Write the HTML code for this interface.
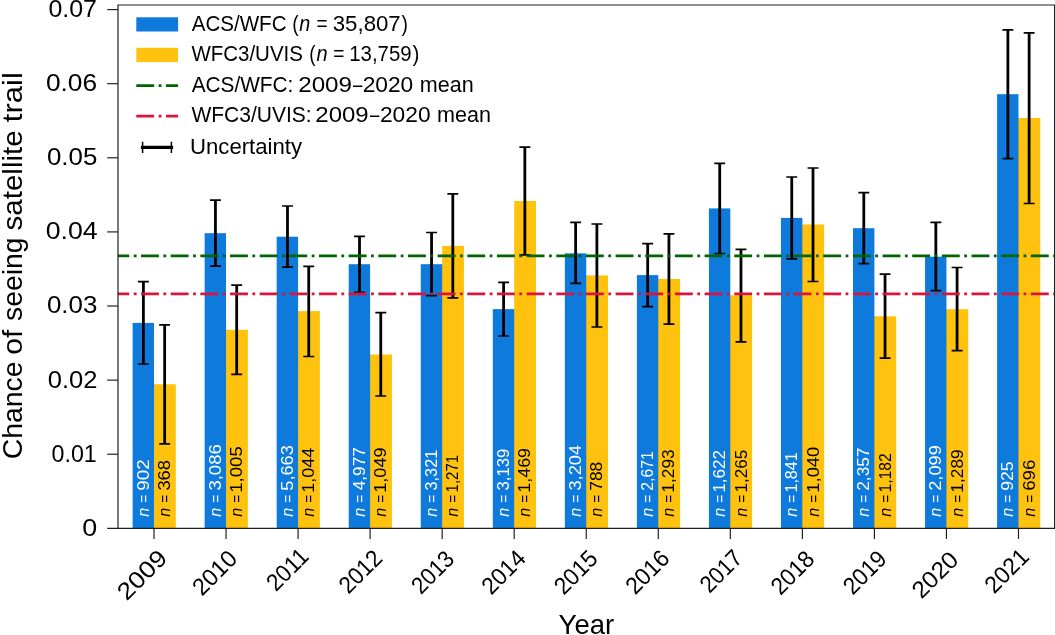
<!DOCTYPE html>
<html><head><meta charset="utf-8"><title>Chance of seeing satellite trail</title>
<style>html,body{margin:0;padding:0;background:#fff;overflow:hidden}svg{display:block;will-change:transform}text{font-family:"Liberation Sans",sans-serif;fill:#000}.it{font-style:italic}</style></head><body>
<svg width="1055" height="635" viewBox="0 0 1055 635">
<rect x="0" y="0" width="1055" height="635" fill="#fff"/>
<rect x="154.00" y="384.30" width="21.80" height="144.05" fill="#ffc20e"/>
<rect x="153.00" y="384.30" width="2.00" height="144.05" fill="#ffc20e"/>
<rect x="132.60" y="322.90" width="21.40" height="205.45" fill="#0e7bdc"/>
<rect x="226.04" y="329.80" width="21.80" height="198.55" fill="#ffc20e"/>
<rect x="225.04" y="329.80" width="2.00" height="198.55" fill="#ffc20e"/>
<rect x="204.64" y="233.20" width="21.40" height="295.15" fill="#0e7bdc"/>
<rect x="298.08" y="311.10" width="21.80" height="217.25" fill="#ffc20e"/>
<rect x="297.08" y="311.10" width="2.00" height="217.25" fill="#ffc20e"/>
<rect x="276.68" y="236.70" width="21.40" height="291.65" fill="#0e7bdc"/>
<rect x="370.12" y="354.50" width="21.80" height="173.85" fill="#ffc20e"/>
<rect x="369.12" y="354.50" width="2.00" height="173.85" fill="#ffc20e"/>
<rect x="348.72" y="264.20" width="21.40" height="264.15" fill="#0e7bdc"/>
<rect x="442.16" y="245.90" width="21.80" height="282.45" fill="#ffc20e"/>
<rect x="441.16" y="264.20" width="2.00" height="264.15" fill="#ffc20e"/>
<rect x="420.76" y="264.20" width="21.40" height="264.15" fill="#0e7bdc"/>
<rect x="514.20" y="201.00" width="21.80" height="327.35" fill="#ffc20e"/>
<rect x="513.20" y="309.10" width="2.00" height="219.25" fill="#ffc20e"/>
<rect x="492.80" y="309.10" width="21.40" height="219.25" fill="#0e7bdc"/>
<rect x="586.24" y="275.40" width="21.80" height="252.95" fill="#ffc20e"/>
<rect x="585.24" y="275.40" width="2.00" height="252.95" fill="#ffc20e"/>
<rect x="564.84" y="253.30" width="21.40" height="275.05" fill="#0e7bdc"/>
<rect x="658.28" y="279.00" width="21.80" height="249.35" fill="#ffc20e"/>
<rect x="657.28" y="279.00" width="2.00" height="249.35" fill="#ffc20e"/>
<rect x="636.88" y="275.10" width="21.40" height="253.25" fill="#0e7bdc"/>
<rect x="730.32" y="295.30" width="21.80" height="233.05" fill="#ffc20e"/>
<rect x="729.32" y="295.30" width="2.00" height="233.05" fill="#ffc20e"/>
<rect x="708.92" y="208.40" width="21.40" height="319.95" fill="#0e7bdc"/>
<rect x="802.36" y="224.50" width="21.80" height="303.85" fill="#ffc20e"/>
<rect x="801.36" y="224.50" width="2.00" height="303.85" fill="#ffc20e"/>
<rect x="780.96" y="217.90" width="21.40" height="310.45" fill="#0e7bdc"/>
<rect x="874.40" y="316.30" width="21.80" height="212.05" fill="#ffc20e"/>
<rect x="873.40" y="316.30" width="2.00" height="212.05" fill="#ffc20e"/>
<rect x="853.00" y="228.20" width="21.40" height="300.15" fill="#0e7bdc"/>
<rect x="946.44" y="309.20" width="21.80" height="219.15" fill="#ffc20e"/>
<rect x="945.44" y="309.20" width="2.00" height="219.15" fill="#ffc20e"/>
<rect x="925.04" y="256.70" width="21.40" height="271.65" fill="#0e7bdc"/>
<rect x="1018.48" y="118.00" width="21.80" height="410.35" fill="#ffc20e"/>
<rect x="1017.48" y="118.00" width="2.00" height="410.35" fill="#ffc20e"/>
<rect x="997.08" y="94.20" width="21.40" height="434.15" fill="#0e7bdc"/>
<path d="M143.40 281.60V364.00" stroke="#000" stroke-width="2.80" fill="none"/>
<path d="M137.95 281.60H148.85M137.95 364.00H148.85" stroke="#000" stroke-width="1.70" fill="none"/>
<path d="M164.65 324.80V443.90" stroke="#000" stroke-width="2.80" fill="none"/>
<path d="M159.20 324.80H170.10M159.20 443.90H170.10" stroke="#000" stroke-width="1.70" fill="none"/>
<path d="M215.44 200.20V266.10" stroke="#000" stroke-width="2.80" fill="none"/>
<path d="M209.99 200.20H220.89M209.99 266.10H220.89" stroke="#000" stroke-width="1.70" fill="none"/>
<path d="M236.69 285.20V374.40" stroke="#000" stroke-width="2.80" fill="none"/>
<path d="M231.24 285.20H242.14M231.24 374.40H242.14" stroke="#000" stroke-width="1.70" fill="none"/>
<path d="M287.48 206.00V267.20" stroke="#000" stroke-width="2.80" fill="none"/>
<path d="M282.03 206.00H292.93M282.03 267.20H292.93" stroke="#000" stroke-width="1.70" fill="none"/>
<path d="M308.73 266.40V356.50" stroke="#000" stroke-width="2.80" fill="none"/>
<path d="M303.28 266.40H314.18M303.28 356.50H314.18" stroke="#000" stroke-width="1.70" fill="none"/>
<path d="M359.52 236.40V292.30" stroke="#000" stroke-width="2.80" fill="none"/>
<path d="M354.07 236.40H364.97M354.07 292.30H364.97" stroke="#000" stroke-width="1.70" fill="none"/>
<path d="M380.77 312.60V396.00" stroke="#000" stroke-width="2.80" fill="none"/>
<path d="M375.32 312.60H386.22M375.32 396.00H386.22" stroke="#000" stroke-width="1.70" fill="none"/>
<path d="M431.56 232.50V295.60" stroke="#000" stroke-width="2.80" fill="none"/>
<path d="M426.11 232.50H437.01M426.11 295.60H437.01" stroke="#000" stroke-width="1.70" fill="none"/>
<path d="M452.81 193.80V297.80" stroke="#000" stroke-width="2.80" fill="none"/>
<path d="M447.36 193.80H458.26M447.36 297.80H458.26" stroke="#000" stroke-width="1.70" fill="none"/>
<path d="M503.60 282.40V336.00" stroke="#000" stroke-width="2.80" fill="none"/>
<path d="M498.15 282.40H509.05M498.15 336.00H509.05" stroke="#000" stroke-width="1.70" fill="none"/>
<path d="M524.85 147.20V254.90" stroke="#000" stroke-width="2.80" fill="none"/>
<path d="M519.40 147.20H530.30M519.40 254.90H530.30" stroke="#000" stroke-width="1.70" fill="none"/>
<path d="M575.64 222.40V283.40" stroke="#000" stroke-width="2.80" fill="none"/>
<path d="M570.19 222.40H581.09M570.19 283.40H581.09" stroke="#000" stroke-width="1.70" fill="none"/>
<path d="M596.89 224.00V327.00" stroke="#000" stroke-width="2.80" fill="none"/>
<path d="M591.44 224.00H602.34M591.44 327.00H602.34" stroke="#000" stroke-width="1.70" fill="none"/>
<path d="M647.68 243.70V306.60" stroke="#000" stroke-width="2.80" fill="none"/>
<path d="M642.23 243.70H653.13M642.23 306.60H653.13" stroke="#000" stroke-width="1.70" fill="none"/>
<path d="M668.93 233.80V324.20" stroke="#000" stroke-width="2.80" fill="none"/>
<path d="M663.48 233.80H674.38M663.48 324.20H674.38" stroke="#000" stroke-width="1.70" fill="none"/>
<path d="M719.72 163.40V253.50" stroke="#000" stroke-width="2.80" fill="none"/>
<path d="M714.27 163.40H725.17M714.27 253.50H725.17" stroke="#000" stroke-width="1.70" fill="none"/>
<path d="M740.97 249.40V341.80" stroke="#000" stroke-width="2.80" fill="none"/>
<path d="M735.52 249.40H746.42M735.52 341.80H746.42" stroke="#000" stroke-width="1.70" fill="none"/>
<path d="M791.76 177.00V258.90" stroke="#000" stroke-width="2.80" fill="none"/>
<path d="M786.31 177.00H797.21M786.31 258.90H797.21" stroke="#000" stroke-width="1.70" fill="none"/>
<path d="M813.01 168.00V281.50" stroke="#000" stroke-width="2.80" fill="none"/>
<path d="M807.56 168.00H818.46M807.56 281.50H818.46" stroke="#000" stroke-width="1.70" fill="none"/>
<path d="M863.80 192.60V263.70" stroke="#000" stroke-width="2.80" fill="none"/>
<path d="M858.35 192.60H869.25M858.35 263.70H869.25" stroke="#000" stroke-width="1.70" fill="none"/>
<path d="M885.05 274.20V358.10" stroke="#000" stroke-width="2.80" fill="none"/>
<path d="M879.60 274.20H890.50M879.60 358.10H890.50" stroke="#000" stroke-width="1.70" fill="none"/>
<path d="M935.84 222.40V290.70" stroke="#000" stroke-width="2.80" fill="none"/>
<path d="M930.39 222.40H941.29M930.39 290.70H941.29" stroke="#000" stroke-width="1.70" fill="none"/>
<path d="M957.09 267.50V350.70" stroke="#000" stroke-width="2.80" fill="none"/>
<path d="M951.64 267.50H962.54M951.64 350.70H962.54" stroke="#000" stroke-width="1.70" fill="none"/>
<path d="M1007.88 29.90V158.70" stroke="#000" stroke-width="2.80" fill="none"/>
<path d="M1002.43 29.90H1013.33M1002.43 158.70H1013.33" stroke="#000" stroke-width="1.70" fill="none"/>
<path d="M1029.13 32.80V203.50" stroke="#000" stroke-width="2.80" fill="none"/>
<path d="M1023.68 32.80H1034.58M1023.68 203.50H1034.58" stroke="#000" stroke-width="1.70" fill="none"/>
<clipPath id="cp"><rect x="118" y="0" width="937" height="635"/></clipPath>
<g clip-path="url(#cp)" fill="none" stroke-width="2.65" stroke-dasharray="17.88 4.49 2.8 4.49">
<path d="M111.38 255.8H1060" stroke="#006400"/>
<path d="M111.38 293.88H1060" stroke="#dc143c"/>
</g>
<text transform="translate(148.60 516.50) rotate(-90)" x="-0.27" y="0" font-size="17.10" textLength="9.00" lengthAdjust="spacingAndGlyphs" class="it" style="fill:#fff">n</text>
<text transform="translate(148.60 516.50) rotate(-90)" x="13.64" y="0" font-size="17.10" textLength="7.92" lengthAdjust="spacingAndGlyphs" style="fill:#fff">=</text>
<text transform="translate(148.60 516.50) rotate(-90)" x="25.72" y="0" font-size="17.10" textLength="31.52" lengthAdjust="spacingAndGlyphs" style="fill:#fff">902</text>
<text transform="translate(170.20 516.50) rotate(-90)" x="-0.27" y="0" font-size="17.10" textLength="9.00" lengthAdjust="spacingAndGlyphs" class="it" style="fill:#000">n</text>
<text transform="translate(170.20 516.50) rotate(-90)" x="13.64" y="0" font-size="17.10" textLength="7.92" lengthAdjust="spacingAndGlyphs" style="fill:#000">=</text>
<text transform="translate(170.20 516.50) rotate(-90)" x="25.90" y="0" font-size="17.10" textLength="30.69" lengthAdjust="spacingAndGlyphs" style="fill:#000">368</text>
<text transform="translate(220.64 516.50) rotate(-90)" x="-0.27" y="0" font-size="17.10" textLength="9.00" lengthAdjust="spacingAndGlyphs" class="it" style="fill:#fff">n</text>
<text transform="translate(220.64 516.50) rotate(-90)" x="13.64" y="0" font-size="17.10" textLength="7.92" lengthAdjust="spacingAndGlyphs" style="fill:#fff">=</text>
<text transform="translate(220.64 516.50) rotate(-90)" x="25.90" y="0" font-size="17.10" textLength="46.41" lengthAdjust="spacingAndGlyphs" style="fill:#fff">3,086</text>
<text transform="translate(242.24 516.50) rotate(-90)" x="-0.27" y="0" font-size="17.10" textLength="9.00" lengthAdjust="spacingAndGlyphs" class="it" style="fill:#000">n</text>
<text transform="translate(242.24 516.50) rotate(-90)" x="13.64" y="0" font-size="17.10" textLength="7.92" lengthAdjust="spacingAndGlyphs" style="fill:#000">=</text>
<text transform="translate(242.24 516.50) rotate(-90)" x="23.79" y="0" font-size="17.10" textLength="46.48" lengthAdjust="spacingAndGlyphs" style="fill:#000">1,005</text>
<text transform="translate(292.68 516.50) rotate(-90)" x="-0.27" y="0" font-size="17.10" textLength="9.00" lengthAdjust="spacingAndGlyphs" class="it" style="fill:#fff">n</text>
<text transform="translate(292.68 516.50) rotate(-90)" x="13.64" y="0" font-size="17.10" textLength="7.92" lengthAdjust="spacingAndGlyphs" style="fill:#fff">=</text>
<text transform="translate(292.68 516.50) rotate(-90)" x="25.87" y="0" font-size="17.10" textLength="45.41" lengthAdjust="spacingAndGlyphs" style="fill:#fff">5,663</text>
<text transform="translate(314.28 516.50) rotate(-90)" x="-0.27" y="0" font-size="17.10" textLength="9.00" lengthAdjust="spacingAndGlyphs" class="it" style="fill:#000">n</text>
<text transform="translate(314.28 516.50) rotate(-90)" x="13.64" y="0" font-size="17.10" textLength="7.92" lengthAdjust="spacingAndGlyphs" style="fill:#000">=</text>
<text transform="translate(314.28 516.50) rotate(-90)" x="23.84" y="0" font-size="17.10" textLength="44.78" lengthAdjust="spacingAndGlyphs" style="fill:#000">1,044</text>
<text transform="translate(364.72 516.50) rotate(-90)" x="-0.27" y="0" font-size="17.10" textLength="9.00" lengthAdjust="spacingAndGlyphs" class="it" style="fill:#fff">n</text>
<text transform="translate(364.72 516.50) rotate(-90)" x="13.64" y="0" font-size="17.10" textLength="7.92" lengthAdjust="spacingAndGlyphs" style="fill:#fff">=</text>
<text transform="translate(364.72 516.50) rotate(-90)" x="26.21" y="0" font-size="17.10" textLength="43.15" lengthAdjust="spacingAndGlyphs" style="fill:#fff">4,977</text>
<text transform="translate(386.32 516.50) rotate(-90)" x="-0.27" y="0" font-size="17.10" textLength="9.00" lengthAdjust="spacingAndGlyphs" class="it" style="fill:#000">n</text>
<text transform="translate(386.32 516.50) rotate(-90)" x="13.64" y="0" font-size="17.10" textLength="7.92" lengthAdjust="spacingAndGlyphs" style="fill:#000">=</text>
<text transform="translate(386.32 516.50) rotate(-90)" x="23.83" y="0" font-size="17.10" textLength="45.12" lengthAdjust="spacingAndGlyphs" style="fill:#000">1,049</text>
<text transform="translate(436.76 516.50) rotate(-90)" x="-0.27" y="0" font-size="17.10" textLength="9.00" lengthAdjust="spacingAndGlyphs" class="it" style="fill:#fff">n</text>
<text transform="translate(436.76 516.50) rotate(-90)" x="13.64" y="0" font-size="17.10" textLength="7.92" lengthAdjust="spacingAndGlyphs" style="fill:#fff">=</text>
<text transform="translate(436.76 516.50) rotate(-90)" x="25.98" y="0" font-size="17.10" textLength="40.81" lengthAdjust="spacingAndGlyphs" style="fill:#fff">3,321</text>
<text transform="translate(458.36 516.50) rotate(-90)" x="-0.27" y="0" font-size="17.10" textLength="9.00" lengthAdjust="spacingAndGlyphs" class="it" style="fill:#000">n</text>
<text transform="translate(458.36 516.50) rotate(-90)" x="13.64" y="0" font-size="17.10" textLength="7.92" lengthAdjust="spacingAndGlyphs" style="fill:#000">=</text>
<text transform="translate(458.36 516.50) rotate(-90)" x="24.06" y="0" font-size="17.10" textLength="37.57" lengthAdjust="spacingAndGlyphs" style="fill:#000">1,271</text>
<text transform="translate(508.80 516.50) rotate(-90)" x="-0.27" y="0" font-size="17.10" textLength="9.00" lengthAdjust="spacingAndGlyphs" class="it" style="fill:#fff">n</text>
<text transform="translate(508.80 516.50) rotate(-90)" x="13.64" y="0" font-size="17.10" textLength="7.92" lengthAdjust="spacingAndGlyphs" style="fill:#fff">=</text>
<text transform="translate(508.80 516.50) rotate(-90)" x="25.96" y="0" font-size="17.10" textLength="41.82" lengthAdjust="spacingAndGlyphs" style="fill:#fff">3,139</text>
<text transform="translate(530.40 516.50) rotate(-90)" x="-0.27" y="0" font-size="17.10" textLength="9.00" lengthAdjust="spacingAndGlyphs" class="it" style="fill:#000">n</text>
<text transform="translate(530.40 516.50) rotate(-90)" x="13.64" y="0" font-size="17.10" textLength="7.92" lengthAdjust="spacingAndGlyphs" style="fill:#000">=</text>
<text transform="translate(530.40 516.50) rotate(-90)" x="23.84" y="0" font-size="17.10" textLength="44.70" lengthAdjust="spacingAndGlyphs" style="fill:#000">1,469</text>
<text transform="translate(580.84 516.50) rotate(-90)" x="-0.27" y="0" font-size="17.10" textLength="9.00" lengthAdjust="spacingAndGlyphs" class="it" style="fill:#fff">n</text>
<text transform="translate(580.84 516.50) rotate(-90)" x="13.64" y="0" font-size="17.10" textLength="7.92" lengthAdjust="spacingAndGlyphs" style="fill:#fff">=</text>
<text transform="translate(580.84 516.50) rotate(-90)" x="25.91" y="0" font-size="17.10" textLength="45.72" lengthAdjust="spacingAndGlyphs" style="fill:#fff">3,204</text>
<text transform="translate(602.44 516.50) rotate(-90)" x="-0.27" y="0" font-size="17.10" textLength="9.00" lengthAdjust="spacingAndGlyphs" class="it" style="fill:#000">n</text>
<text transform="translate(602.44 516.50) rotate(-90)" x="13.64" y="0" font-size="17.10" textLength="7.92" lengthAdjust="spacingAndGlyphs" style="fill:#000">=</text>
<text transform="translate(602.44 516.50) rotate(-90)" x="25.71" y="0" font-size="17.10" textLength="29.14" lengthAdjust="spacingAndGlyphs" style="fill:#000">788</text>
<text transform="translate(652.88 516.50) rotate(-90)" x="-0.27" y="0" font-size="17.10" textLength="9.00" lengthAdjust="spacingAndGlyphs" class="it" style="fill:#fff">n</text>
<text transform="translate(652.88 516.50) rotate(-90)" x="13.64" y="0" font-size="17.10" textLength="7.92" lengthAdjust="spacingAndGlyphs" style="fill:#fff">=</text>
<text transform="translate(652.88 516.50) rotate(-90)" x="25.81" y="0" font-size="17.10" textLength="39.35" lengthAdjust="spacingAndGlyphs" style="fill:#fff">2,671</text>
<text transform="translate(674.48 516.50) rotate(-90)" x="-0.27" y="0" font-size="17.10" textLength="9.00" lengthAdjust="spacingAndGlyphs" class="it" style="fill:#000">n</text>
<text transform="translate(674.48 516.50) rotate(-90)" x="13.64" y="0" font-size="17.10" textLength="7.92" lengthAdjust="spacingAndGlyphs" style="fill:#000">=</text>
<text transform="translate(674.48 516.50) rotate(-90)" x="23.89" y="0" font-size="17.10" textLength="43.27" lengthAdjust="spacingAndGlyphs" style="fill:#000">1,293</text>
<text transform="translate(724.92 516.50) rotate(-90)" x="-0.27" y="0" font-size="17.10" textLength="9.00" lengthAdjust="spacingAndGlyphs" class="it" style="fill:#fff">n</text>
<text transform="translate(724.92 516.50) rotate(-90)" x="13.64" y="0" font-size="17.10" textLength="7.92" lengthAdjust="spacingAndGlyphs" style="fill:#fff">=</text>
<text transform="translate(724.92 516.50) rotate(-90)" x="23.91" y="0" font-size="17.10" textLength="42.54" lengthAdjust="spacingAndGlyphs" style="fill:#fff">1,622</text>
<text transform="translate(746.52 516.50) rotate(-90)" x="-0.27" y="0" font-size="17.10" textLength="9.00" lengthAdjust="spacingAndGlyphs" class="it" style="fill:#000">n</text>
<text transform="translate(746.52 516.50) rotate(-90)" x="13.64" y="0" font-size="17.10" textLength="7.92" lengthAdjust="spacingAndGlyphs" style="fill:#000">=</text>
<text transform="translate(746.52 516.50) rotate(-90)" x="23.90" y="0" font-size="17.10" textLength="42.81" lengthAdjust="spacingAndGlyphs" style="fill:#000">1,265</text>
<text transform="translate(796.96 516.50) rotate(-90)" x="-0.27" y="0" font-size="17.10" textLength="9.00" lengthAdjust="spacingAndGlyphs" class="it" style="fill:#fff">n</text>
<text transform="translate(796.96 516.50) rotate(-90)" x="13.64" y="0" font-size="17.10" textLength="7.92" lengthAdjust="spacingAndGlyphs" style="fill:#fff">=</text>
<text transform="translate(796.96 516.50) rotate(-90)" x="23.98" y="0" font-size="17.10" textLength="40.20" lengthAdjust="spacingAndGlyphs" style="fill:#fff">1,841</text>
<text transform="translate(818.56 516.50) rotate(-90)" x="-0.27" y="0" font-size="17.10" textLength="9.00" lengthAdjust="spacingAndGlyphs" class="it" style="fill:#000">n</text>
<text transform="translate(818.56 516.50) rotate(-90)" x="13.64" y="0" font-size="17.10" textLength="7.92" lengthAdjust="spacingAndGlyphs" style="fill:#000">=</text>
<text transform="translate(818.56 516.50) rotate(-90)" x="23.80" y="0" font-size="17.10" textLength="46.00" lengthAdjust="spacingAndGlyphs" style="fill:#000">1,040</text>
<text transform="translate(869.00 516.50) rotate(-90)" x="-0.27" y="0" font-size="17.10" textLength="9.00" lengthAdjust="spacingAndGlyphs" class="it" style="fill:#fff">n</text>
<text transform="translate(869.00 516.50) rotate(-90)" x="13.64" y="0" font-size="17.10" textLength="7.92" lengthAdjust="spacingAndGlyphs" style="fill:#fff">=</text>
<text transform="translate(869.00 516.50) rotate(-90)" x="25.74" y="0" font-size="17.10" textLength="43.23" lengthAdjust="spacingAndGlyphs" style="fill:#fff">2,357</text>
<text transform="translate(890.60 516.50) rotate(-90)" x="-0.27" y="0" font-size="17.10" textLength="9.00" lengthAdjust="spacingAndGlyphs" class="it" style="fill:#000">n</text>
<text transform="translate(890.60 516.50) rotate(-90)" x="13.64" y="0" font-size="17.10" textLength="7.92" lengthAdjust="spacingAndGlyphs" style="fill:#000">=</text>
<text transform="translate(890.60 516.50) rotate(-90)" x="24.01" y="0" font-size="17.10" textLength="39.28" lengthAdjust="spacingAndGlyphs" style="fill:#000">1,182</text>
<text transform="translate(941.04 516.50) rotate(-90)" x="-0.27" y="0" font-size="17.10" textLength="9.00" lengthAdjust="spacingAndGlyphs" class="it" style="fill:#fff">n</text>
<text transform="translate(941.04 516.50) rotate(-90)" x="13.64" y="0" font-size="17.10" textLength="7.92" lengthAdjust="spacingAndGlyphs" style="fill:#fff">=</text>
<text transform="translate(941.04 516.50) rotate(-90)" x="25.69" y="0" font-size="17.10" textLength="45.67" lengthAdjust="spacingAndGlyphs" style="fill:#fff">2,099</text>
<text transform="translate(962.64 516.50) rotate(-90)" x="-0.27" y="0" font-size="17.10" textLength="9.00" lengthAdjust="spacingAndGlyphs" class="it" style="fill:#000">n</text>
<text transform="translate(962.64 516.50) rotate(-90)" x="13.64" y="0" font-size="17.10" textLength="7.92" lengthAdjust="spacingAndGlyphs" style="fill:#000">=</text>
<text transform="translate(962.64 516.50) rotate(-90)" x="23.88" y="0" font-size="17.10" textLength="43.33" lengthAdjust="spacingAndGlyphs" style="fill:#000">1,289</text>
<text transform="translate(1013.08 516.50) rotate(-90)" x="-0.27" y="0" font-size="17.10" textLength="9.00" lengthAdjust="spacingAndGlyphs" class="it" style="fill:#fff">n</text>
<text transform="translate(1013.08 516.50) rotate(-90)" x="13.64" y="0" font-size="17.10" textLength="7.92" lengthAdjust="spacingAndGlyphs" style="fill:#fff">=</text>
<text transform="translate(1013.08 516.50) rotate(-90)" x="25.78" y="0" font-size="17.10" textLength="29.35" lengthAdjust="spacingAndGlyphs" style="fill:#fff">925</text>
<text transform="translate(1034.68 516.50) rotate(-90)" x="-0.27" y="0" font-size="17.10" textLength="9.00" lengthAdjust="spacingAndGlyphs" class="it" style="fill:#000">n</text>
<text transform="translate(1034.68 516.50) rotate(-90)" x="13.64" y="0" font-size="17.10" textLength="7.92" lengthAdjust="spacingAndGlyphs" style="fill:#000">=</text>
<text transform="translate(1034.68 516.50) rotate(-90)" x="25.65" y="0" font-size="17.10" textLength="31.37" lengthAdjust="spacingAndGlyphs" style="fill:#000">696</text>
<g stroke="#1f1f1f" stroke-width="1.18" fill="none">
<path d="M118 528.35V5H1056"/>
<path d="M1054.6 5V528.35"/>
<path d="M107.2 528.35H1056"/>
<path d="M107.2 454.24H118"/>
<path d="M107.2 380.13H118"/>
<path d="M107.2 306.02H118"/>
<path d="M107.2 231.91H118"/>
<path d="M107.2 157.80H118"/>
<path d="M107.2 83.69H118"/>
<path d="M107.2 9.58H118"/>
<path d="M154.00 528.35V538.9"/>
<path d="M226.04 528.35V538.9"/>
<path d="M298.08 528.35V538.9"/>
<path d="M370.12 528.35V538.9"/>
<path d="M442.16 528.35V538.9"/>
<path d="M514.20 528.35V538.9"/>
<path d="M586.24 528.35V538.9"/>
<path d="M658.28 528.35V538.9"/>
<path d="M730.32 528.35V538.9"/>
<path d="M802.36 528.35V538.9"/>
<path d="M874.40 528.35V538.9"/>
<path d="M946.44 528.35V538.9"/>
<path d="M1018.48 528.35V538.9"/>
</g>
<text x="82.30" y="535.75" font-size="23.80" textLength="14.99" lengthAdjust="spacingAndGlyphs">0</text>
<text x="51.54" y="461.64" font-size="23.80" textLength="45.24" lengthAdjust="spacingAndGlyphs">0.01</text>
<text x="47.75" y="387.53" font-size="23.80" textLength="49.78" lengthAdjust="spacingAndGlyphs">0.02</text>
<text x="46.94" y="313.42" font-size="23.80" textLength="50.45" lengthAdjust="spacingAndGlyphs">0.03</text>
<text x="45.71" y="239.31" font-size="23.80" textLength="51.92" lengthAdjust="spacingAndGlyphs">0.04</text>
<text x="46.94" y="165.20" font-size="23.80" textLength="50.39" lengthAdjust="spacingAndGlyphs">0.05</text>
<text x="45.92" y="91.09" font-size="23.80" textLength="51.28" lengthAdjust="spacingAndGlyphs">0.06</text>
<text x="48.48" y="16.98" font-size="23.80" textLength="48.53" lengthAdjust="spacingAndGlyphs">0.07</text>
<text transform="translate(167.74 560.46) rotate(-45)" x="-57.94" y="0" font-size="23.80" textLength="59.19" lengthAdjust="spacingAndGlyphs">2009</text>
<text transform="translate(238.06 560.72) rotate(-45)" x="-51.08" y="0" font-size="23.80" textLength="51.99" lengthAdjust="spacingAndGlyphs">2010</text>
<text transform="translate(309.40 558.76) rotate(-45)" x="-47.39" y="0" font-size="23.80" textLength="48.48" lengthAdjust="spacingAndGlyphs">2011</text>
<text transform="translate(382.92 560.42) rotate(-45)" x="-48.70" y="0" font-size="23.80" textLength="49.82" lengthAdjust="spacingAndGlyphs">2012</text>
<text transform="translate(455.08 561.16) rotate(-45)" x="-48.13" y="0" font-size="23.80" textLength="49.09" lengthAdjust="spacingAndGlyphs">2013</text>
<text transform="translate(526.84 560.16) rotate(-45)" x="-50.16" y="0" font-size="23.80" textLength="50.83" lengthAdjust="spacingAndGlyphs">2014</text>
<text transform="translate(598.58 560.86) rotate(-45)" x="-49.43" y="0" font-size="23.80" textLength="50.38" lengthAdjust="spacingAndGlyphs">2015</text>
<text transform="translate(670.34 560.42) rotate(-45)" x="-49.78" y="0" font-size="23.80" textLength="50.78" lengthAdjust="spacingAndGlyphs">2016</text>
<text transform="translate(743.20 560.32) rotate(-45)" x="-47.76" y="0" font-size="23.80" textLength="48.86" lengthAdjust="spacingAndGlyphs">2017</text>
<text transform="translate(815.32 561.18) rotate(-45)" x="-49.30" y="0" font-size="23.80" textLength="50.28" lengthAdjust="spacingAndGlyphs">2018</text>
<text transform="translate(887.30 561.18) rotate(-45)" x="-48.87" y="0" font-size="23.80" textLength="49.93" lengthAdjust="spacingAndGlyphs">2019</text>
<text transform="translate(959.28 561.94) rotate(-45)" x="-53.51" y="0" font-size="23.80" textLength="54.45" lengthAdjust="spacingAndGlyphs">2020</text>
<text transform="translate(1029.66 559.00) rotate(-45)" x="-50.09" y="0" font-size="23.80" textLength="51.21" lengthAdjust="spacingAndGlyphs">2021</text>
<text transform="translate(21.60 457.90) rotate(-90)" x="-1.43" y="0" font-size="27.60" textLength="97.79" lengthAdjust="spacingAndGlyphs">Chance</text>
<text transform="translate(21.60 457.90) rotate(-90)" x="103.16" y="0" font-size="27.60" textLength="25.00" lengthAdjust="spacingAndGlyphs">of</text>
<text transform="translate(21.60 457.90) rotate(-90)" x="136.92" y="0" font-size="27.60" textLength="83.50" lengthAdjust="spacingAndGlyphs">seeing</text>
<text transform="translate(21.60 457.90) rotate(-90)" x="227.49" y="0" font-size="27.60" textLength="100.01" lengthAdjust="spacingAndGlyphs">satellite</text>
<text transform="translate(21.60 457.90) rotate(-90)" x="335.74" y="0" font-size="27.60" textLength="49.94" lengthAdjust="spacingAndGlyphs">trail</text>
<text x="558.60" y="633.90" font-size="27.60" textLength="55.56" lengthAdjust="spacingAndGlyphs">Year</text>
<rect x="136.3" y="17.3" width="41.8" height="14.2" fill="#0e7bdc"/>
<rect x="136.3" y="47.8" width="41.8" height="14.3" fill="#ffc20e"/>
<path d="M136.3 85.6H178.1" stroke="#006400" stroke-width="2.8" stroke-dasharray="17.88 4.49 2.8 4.49" fill="none"/>
<path d="M136.3 116.1H178.1" stroke="#dc143c" stroke-width="2.8" stroke-dasharray="17.88 4.49 2.8 4.49" fill="none"/>
<path d="M140.9 147.3H173.1" stroke="#000" stroke-width="3.3" fill="none"/>
<path d="M142.6 141.8V152.9M171.4 141.8V152.9" stroke="#000" stroke-width="1.5" fill="none"/>
<text x="191.67" y="30.80" font-size="21.30" textLength="94.91" lengthAdjust="spacingAndGlyphs">ACS/WFC</text>
<text x="292.31" y="30.80" font-size="21.30" textLength="6.40" lengthAdjust="spacingAndGlyphs">(</text>
<text x="299.37" y="30.80" font-size="21.30" textLength="11.02" lengthAdjust="spacingAndGlyphs" class="it">n</text>
<text x="316.47" y="30.80" font-size="21.30" textLength="11.16" lengthAdjust="spacingAndGlyphs">=</text>
<text x="332.76" y="30.80" font-size="21.30" textLength="67.96" lengthAdjust="spacingAndGlyphs">35,807</text>
<text x="401.49" y="30.80" font-size="21.30" textLength="6.40" lengthAdjust="spacingAndGlyphs">)</text>
<text x="191.42" y="61.00" font-size="21.30" textLength="111.51" lengthAdjust="spacingAndGlyphs">WFC3/UVIS</text>
<text x="309.33" y="61.00" font-size="21.30" textLength="6.27" lengthAdjust="spacingAndGlyphs">(</text>
<text x="316.47" y="61.00" font-size="21.30" textLength="11.13" lengthAdjust="spacingAndGlyphs" class="it">n</text>
<text x="333.37" y="61.00" font-size="21.30" textLength="11.16" lengthAdjust="spacingAndGlyphs">=</text>
<text x="349.25" y="61.00" font-size="21.30" textLength="62.31" lengthAdjust="spacingAndGlyphs">13,759</text>
<text x="412.49" y="61.00" font-size="21.30" textLength="6.90" lengthAdjust="spacingAndGlyphs">)</text>
<text x="191.67" y="91.60" font-size="21.30" textLength="101.72" lengthAdjust="spacingAndGlyphs">ACS/WFC:</text>
<text x="298.19" y="91.60" font-size="21.30" textLength="53.85" lengthAdjust="spacingAndGlyphs">2009</text>
<text x="353.00" y="91.60" font-size="21.30" textLength="9.40" lengthAdjust="spacingAndGlyphs">–</text>
<text x="362.66" y="91.60" font-size="21.30" textLength="50.62" lengthAdjust="spacingAndGlyphs">2020</text>
<text x="419.78" y="91.60" font-size="21.30" textLength="53.91" lengthAdjust="spacingAndGlyphs">mean</text>
<text x="191.42" y="122.00" font-size="21.30" textLength="120.29" lengthAdjust="spacingAndGlyphs">WFC3/UVIS:</text>
<text x="315.30" y="122.00" font-size="21.30" textLength="53.43" lengthAdjust="spacingAndGlyphs">2009</text>
<text x="370.10" y="122.00" font-size="21.30" textLength="9.40" lengthAdjust="spacingAndGlyphs">–</text>
<text x="379.96" y="122.00" font-size="21.30" textLength="50.62" lengthAdjust="spacingAndGlyphs">2020</text>
<text x="437.08" y="122.00" font-size="21.30" textLength="53.91" lengthAdjust="spacingAndGlyphs">mean</text>
<text x="189.99" y="154.30" font-size="21.30" textLength="112.14" lengthAdjust="spacingAndGlyphs">Uncertainty</text>
</svg></body></html>
